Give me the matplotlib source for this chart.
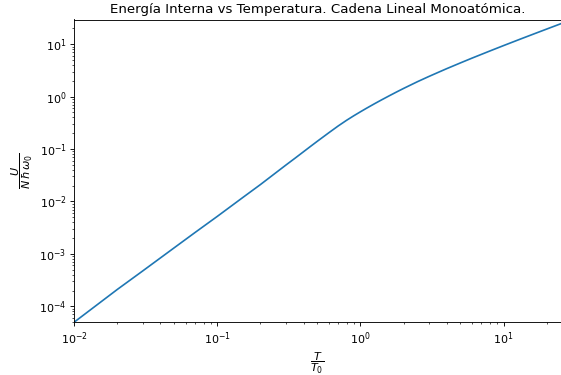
# -*- coding: utf-8 -*-
"""
Energia interna vs temperatura, cadena lineal monoatomica (log-log).
"""

import matplotlib
matplotlib.use("Agg")
import matplotlib.pyplot as plt

# T/T0 and U/(N hbar w0)
temp = [0.01, 0.02, 0.03, 0.05, 0.07, 0.1, 0.15, 0.2, 0.3, 0.35, 0.4, 0.45,
        0.5, 0.6, 0.7, 0.8, 0.9, 1.0, 1.1, 1.25, 1.4, 1.6, 1.8, 2.0, 2.5,
        3.0, 3.5, 4.0, 5.0, 6.0, 8.0, 10.0, 13.0, 17.0, 20.0, 25.0]
energy = [5.0e-5, 2.1e-4, 4.7e-4, 1.31e-3, 2.57e-3, 5.2e-3, 1.18e-2, 2.1e-2,
          0.049, 0.0672, 0.0887, 0.1134, 0.1408, 0.2035, 0.276, 0.353, 0.432,
          0.513, 0.597, 0.727, 0.861, 1.045, 1.235, 1.428, 1.92, 2.41, 2.90,
          3.40, 4.39, 5.39, 7.38, 9.38, 12.38, 16.37, 19.37, 24.37]

DPI = 80
fig = plt.figure(figsize=(561 / DPI, 375 / DPI), dpi=DPI)
ax = fig.add_axes([74.3 / 561, (375 - 322.3) / 375,
                   (560.5 - 74.3) / 561, (322.3 - 19.5) / 375])

ax.plot(temp, energy)
ax.set_xscale("log")
ax.set_yscale("log")
ax.set_xlim(0.01, 25)
ax.set_ylim(4.95e-5, 29.5)

ax.set_xlabel(r"$\dfrac{T}{T_0}$")
ax.set_ylabel(r"$\dfrac{U}{N\,\hbar\,\omega_0}$")
ax.set_title("Energía Interna vs Temperatura. Cadena Lineal Monoatómica.")

fig.savefig("out.png", dpi=DPI)
